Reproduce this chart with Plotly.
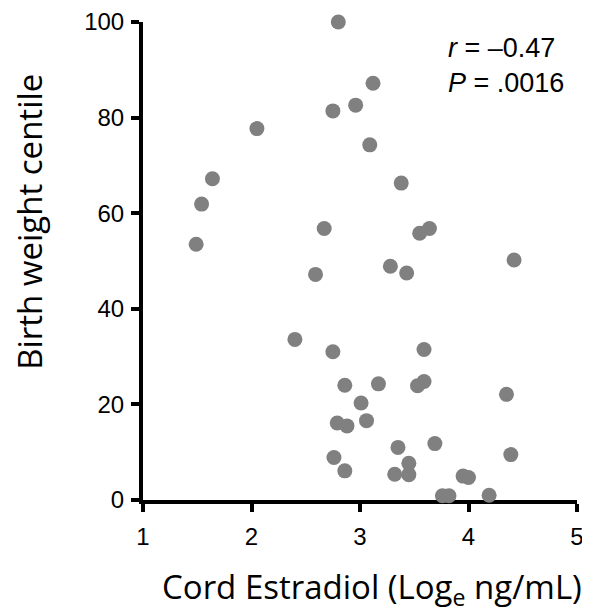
import plotly.graph_objects as go

estradiol_log = [2.80, 2.75, 2.96, 2.05, 1.64, 1.54, 1.49, 2.67, 3.12, 3.09,
                 3.38, 3.55, 3.64, 4.42, 2.59, 2.40, 2.75, 2.86, 3.01, 2.79,
                 2.88, 2.76, 2.86, 3.28, 3.43, 3.59, 3.17, 3.53, 3.59, 4.35,
                 3.06, 3.35, 3.69, 4.39, 3.45, 3.32, 3.45, 3.95, 4.00, 3.76,
                 3.82, 4.19]
bw_centile = [100.0, 81.4, 82.6, 77.7, 67.2, 61.9, 53.5, 56.8, 87.2, 74.3,
              66.3, 55.8, 56.8, 50.2, 47.2, 33.6, 31.0, 24.0, 20.3, 16.1,
              15.5, 8.9, 6.1, 48.9, 47.5, 31.5, 24.3, 23.9, 24.8, 22.1,
              16.6, 11.0, 11.8, 9.5, 7.7, 5.4, 5.3, 5.0, 4.7, 0.9,
              0.9, 1.0]
x_ticks = [1, 2, 3, 4, 5]
y_ticks = [0, 20, 40, 60, 80, 100]

fig = go.Figure()
fig.add_trace(go.Scatter(
    x=estradiol_log, y=bw_centile, mode="markers",
    marker=dict(size=15, color="#808080", line=dict(width=0)),
    cliponaxis=False, showlegend=False,
))

axis_common = dict(
    showgrid=False, zeroline=False, showline=True, linecolor="black", linewidth=4,
    ticks="outside", ticklen=8, tickwidth=4, tickcolor="black",
    tickfont=dict(family="Liberation Sans, Arial", size=24, color="black"),
    layer="below traces", automargin=False,
)

title_font = dict(family="Open Sans", size=33, color="black")

fig.update_layout(
    width=582, height=603,
    margin=dict(l=135, r=13, t=14, b=111),
    plot_bgcolor="white", paper_bgcolor="white",
    xaxis=dict(range=[1, 5], tickvals=x_ticks, ticklabelstandoff=4, **axis_common),
    yaxis=dict(range=[0, 100], tickvals=y_ticks, ticklabelstandoff=2, **axis_common),
    annotations=[
        dict(x=0.698, y=0.909, xref="paper", yref="paper", xanchor="left", yanchor="middle",
             text="<i>r</i> = –0.47<br><i>P</i> = .0016", align="left", showarrow=False,
             font=dict(family="Liberation Sans, Arial", size=27, color="black")),
        dict(x=0.5266, y=-0.1845, xref="paper", yref="paper", xanchor="center", yanchor="middle",
             text="Cord Estradiol (Log<sub>e</sub> ng/mL)", showarrow=False, font=title_font),
        dict(x=-0.2614, y=0.581, xref="paper", yref="paper", xanchor="center", yanchor="middle",
             text="Birth weight centile", textangle=-90, showarrow=False, font=title_font),
    ],
)

fig.write_html("out.html")
